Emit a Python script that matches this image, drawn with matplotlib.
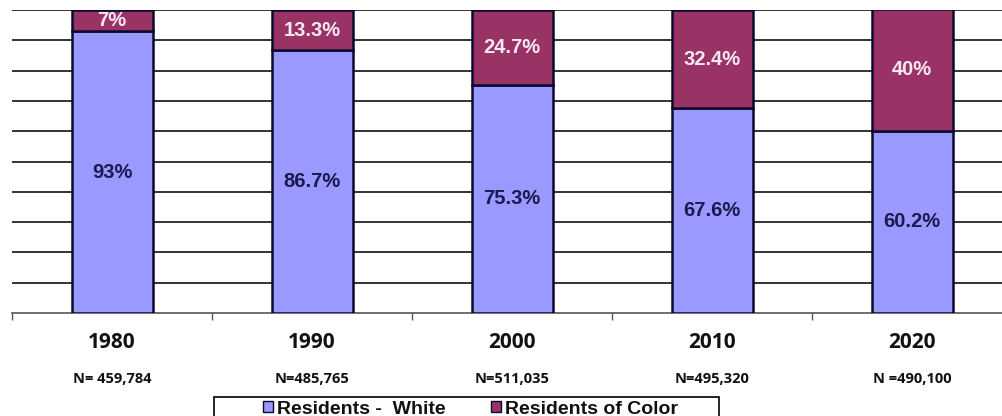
import matplotlib.pyplot as plt
from matplotlib.patches import Patch, Rectangle

years = ['1980', '1990', '2000', '2010', '2020']
n_labels = ['N= 459,784', 'N=485,765', 'N=511,035', 'N=495,320', 'N =490,100']
white = [93, 86.7, 75.3, 67.6, 60.2]
color = [7, 13.3, 24.7, 32.4, 40]
white_lbl = ['93%', '86.7%', '75.3%', '67.6%', '60.2%']
color_lbl = ['7%', '13.3%', '24.7%', '32.4%', '40%']

c_white = '#9999FF'
c_color = '#993366'

W, H = 1003, 416
fig = plt.figure(figsize=(W / 100, H / 100), dpi=100)
ax = fig.add_axes([12 / W, 103 / H, 1000 / W, 303 / H])

x = range(len(years))
ax.bar(x, white, width=0.405, color=c_white, edgecolor='#0a0a30', linewidth=1.8, zorder=3)
ax.bar(x, color, bottom=white, width=0.405, color=c_color, edgecolor='#0a0a30', linewidth=1.8, zorder=3)

# 퍼센트 라벨
for i in x:
    ax.text(i, white[i] / 2, white_lbl[i], ha='center', va='center', fontsize=14.5,
            fontweight='bold', family='Liberation Sans', color='#1a1a50', zorder=4)
    ax.text(i, white[i] + color[i] / 2, color_lbl[i], ha='center', va='center', fontsize=14.5,
            fontweight='bold', family='Liberation Sans', color='#f8e8f2', zorder=4)
    ax.text(i, -9.6, years[i], ha='center', va='center', fontsize=15, fontweight='bold',
            family='Open Sans', color='#111111', clip_on=False)
    ax.text(i, -21.8, n_labels[i], ha='center', va='center', fontsize=10.5, fontweight='bold',
            family='Open Sans', color='#111111', clip_on=False)

ax.set_xlim(-0.5, 4.5)
ax.set_ylim(0, 100)
ax.set_yticks(range(10, 101, 10))
ax.yaxis.grid(True, color='#333333', linewidth=1.4, zorder=0)
ax.tick_params(axis='y', length=0, labelleft=False)
ax.set_xticks([i - 0.5 for i in range(6)])
ax.tick_params(axis='x', direction='out', length=5, width=1, color='#555555', labelbottom=False)
for s in ['top', 'right', 'left']:
    ax.spines[s].set_visible(False)
ax.spines['bottom'].set_color('#555555')
ax.spines['bottom'].set_linewidth(1.2)
ax.set_axisbelow(True)

# 범례 테두리 (아래쪽은 그림 밖으로 잘림)
fig.patches.append(Rectangle((214 / W, -10 / H), 505 / W, (H - 397 + 10) / H, transform=fig.transFigure,
                             facecolor='white', edgecolor='black', linewidth=1.2))

handles = [Patch(facecolor=c_white, edgecolor='#0a0a30', label='Residents -  White'),
           Patch(facecolor=c_color, edgecolor='#0a0a30', label='Residents of Color')]
leg = fig.legend(handles=handles, ncol=2, loc='center left', bbox_to_anchor=(263 / W, 1 - 409 / H),
                 prop={'family': 'Liberation Sans', 'weight': 'bold', 'size': 14},
                 frameon=False, handlelength=0.5, handleheight=0.5,
                 handletextpad=0.2, columnspacing=2.35, borderpad=0, borderaxespad=0)
for t in leg.get_texts():
    t.set_color('#111111')

fig.savefig('out.png', dpi=100)
